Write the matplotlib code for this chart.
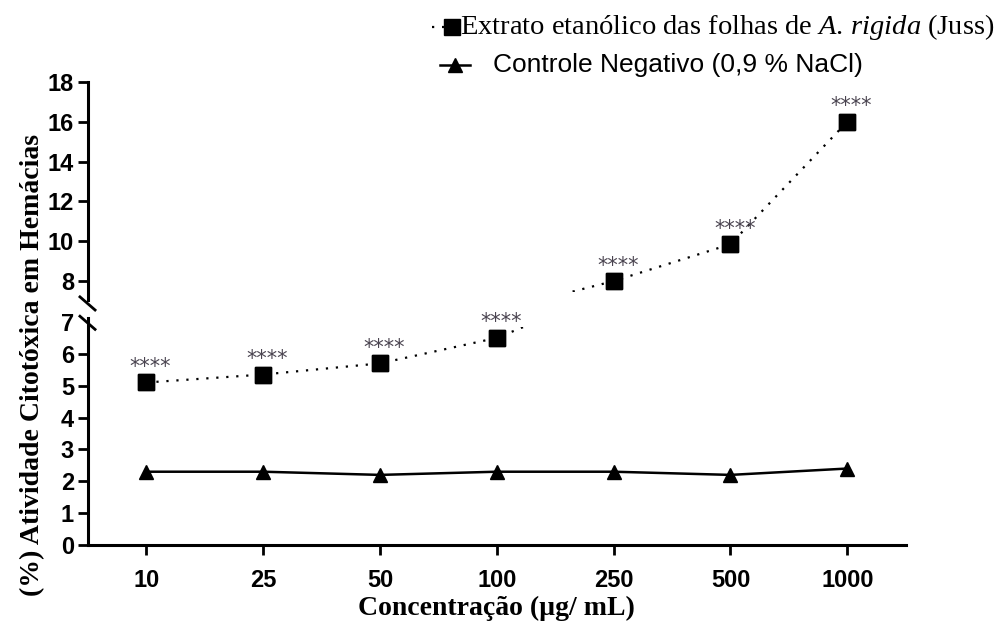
import matplotlib.pyplot as plt
from matplotlib.lines import Line2D
from matplotlib.patches import Rectangle
import numpy as np

# data
concentracoes = ["10", "25", "50", "100", "250", "500", "1000"]
extrato = [5.1, 5.35, 5.7, 6.5, 8.0, 9.85, 16.0]
controle = [2.3, 2.3, 2.2, 2.3, 2.3, 2.2, 2.4]
signif = ["****"] * 7

x = np.arange(len(concentracoes))
tickfont = ["Liberation Sans Narrow", "Liberation Sans", "DejaVu Sans"]

plt.rcParams["mathtext.fontset"] = "custom"
plt.rcParams["mathtext.it"] = "Liberation Serif:italic"
plt.rcParams["mathtext.rm"] = "Liberation Serif"

fig = plt.figure(figsize=(10.07, 6.25), dpi=100)
ax_top = fig.add_axes([0.0874, 0.52, 0.812, 0.349])
ax_bot = fig.add_axes([0.0874, 0.128, 0.812, 0.363])

dots = (0, (1, 3.5))
# visible y-range of the dotted line in each part (gap around the break)
clips = {ax_top: (7.45, 18.5), ax_bot: (-1, 6.85)}
for ax in (ax_top, ax_bot):
    ln, = ax.plot(x, extrato, color="black", linestyle=dots, linewidth=1.6,
                  marker="s", markersize=11, zorder=3)
    lo, hi = clips[ax]
    ln.set_clip_path(Rectangle((-0.5, lo), 7, hi - lo, transform=ax.transData))
    ax.plot(x, extrato, linestyle="none", color="black", marker="s",
            markersize=11, zorder=3)
    ax.plot(x, controle, color="black", linewidth=1.8,
            marker="^", markersize=10, zorder=3)
    ax.set_xlim(-0.5, 6.5)
    for s in ("right", "top"):
        ax.spines[s].set_visible(False)
    ax.spines["left"].set_linewidth(2.2)
    ax.tick_params(axis="y", length=7, width=2, labelsize=17, pad=3)

ax_top.set_ylim(7.05, 18)
ax_top.set_yticks([8, 10, 12, 14, 16, 18])
ax_top.spines["bottom"].set_visible(False)
ax_top.set_xticks([])

ax_bot.set_ylim(0, 7.12)
ax_bot.set_yticks(range(8))
ax_bot.yaxis.get_major_ticks()[-1].tick1line.set_visible(False)
ax_bot.spines["bottom"].set_linewidth(2.2)
ax_bot.set_xticks(x)
ax_bot.set_xticklabels(concentracoes)
ax_bot.tick_params(axis="x", length=7, width=2, labelsize=17, pad=10)

for ax in (ax_top, ax_bot):
    for lab in ax.get_yticklabels() + ax.get_xticklabels():
        lab.set_family(tickfont)
        lab.set_fontweight("bold")

# significance marks
for xi, yi, s in zip(x, extrato, signif):
    ax = ax_top if yi > 7 else ax_bot
    ax.annotate(s, (xi, yi), xytext=(3, 4), textcoords="offset points",
                ha="center", va="bottom", fontsize=15, color="#4a4450")

# break marks on the left spine
kw = dict(color="black", linewidth=2, clip_on=False, transform=fig.transFigure)
fig.add_artist(Line2D([0.0794, 0.0944], [0.525, 0.504], **kw))
fig.add_artist(Line2D([0.0794, 0.0944], [0.494, 0.473], **kw))

fig.text(0.032, 0.416, "(%) Atividade Citotóxica em Hemácias", rotation=90,
         ha="center", va="center", family="Liberation Serif",
         fontweight="bold", fontsize=20)
fig.text(0.493, 0.026, "Concentração (µg/ mL)", ha="center", va="center",
         family="Liberation Serif", fontweight="bold", fontsize=20)

# legend drawn by hand
tf = fig.transFigure
fig.add_artist(Line2D([0.429, 0.449], [0.957, 0.957], color="black",
                      linestyle=dots, linewidth=1.6, marker="s",
                      markersize=11, markevery=[1], transform=tf))
fig.text(0.457, 0.957,
         r"Extrato etanólico das folhas de $\mathit{A.\,rigida}$ (Juss)",
         family="Liberation Serif", fontsize=20.5, va="center", ha="left")
fig.add_artist(Line2D([0.437, 0.467], [0.896, 0.896], color="black",
                      linewidth=1.8, transform=tf))
fig.add_artist(Line2D([0.452], [0.896], color="black", marker="^",
                      markersize=10, transform=tf))
fig.text(0.49, 0.896, "Controle Negativo (0,9 % NaCl)",
         family="Liberation Sans", fontsize=19, va="center", ha="left")

fig.savefig("out.png", dpi=100)
